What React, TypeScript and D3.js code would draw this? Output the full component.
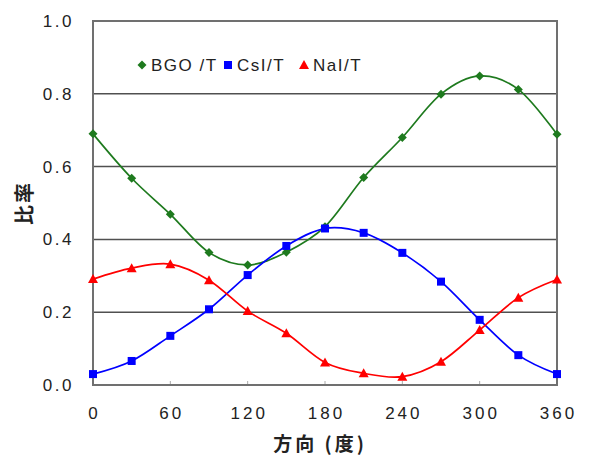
import * as d3 from 'd3';
import React from 'react';

// angle in degrees, every 30
const angles = [0, 30, 60, 90, 120, 150, 180, 210, 240, 270, 300, 330, 360];
const bgo = [0.69, 0.568, 0.469, 0.364, 0.33, 0.365, 0.435, 0.57, 0.68, 0.799, 0.849, 0.812, 0.689];
const csi = [0.03, 0.066, 0.135, 0.208, 0.302, 0.382, 0.43, 0.418, 0.363, 0.284, 0.179, 0.082, 0.03];
const nai = [0.291, 0.321, 0.332, 0.288, 0.203, 0.142, 0.062, 0.032, 0.023, 0.064, 0.151, 0.24, 0.29];
const xTicks = [0, 60, 120, 180, 240, 300, 360];
const yTicks = [0, 0.2, 0.4, 0.6, 0.8, 1.0];

const series = [
  { name: 'BGO /T', values: bgo, color: '#1e7a1e', marker: 'diamond' },
  { name: 'CsI/T', values: csi, color: '#0000ff', marker: 'square' },
  { name: 'NaI/T', values: nai, color: '#ff0000', marker: 'triangle' },
];

const W = 589;
const H = 466;
const m = { left: 93, right: 32, top: 21, bottom: 81 };
const font = '"Liberation Sans", Arial, sans-serif';
const cjk = '"Noto Sans CJK JP", sans-serif';

function Marker({ type, x, y, color }: { type: string; x: number; y: number; color: string }) {
  if (type === 'diamond') {
    const r = 4.5;
    return <path d={`M${x},${y - r}L${x + r},${y}L${x},${y + r}L${x - r},${y}Z`} fill={color} />;
  }
  if (type === 'square') {
    return <rect x={x - 4} y={y - 4} width={8} height={8} fill={color} />;
  }
  return <path d={`M${x},${y - 5}L${x + 5},${y + 4}L${x - 5},${y + 4}Z`} fill={color} />;
}

export default function App() {
  const x = d3.scaleLinear().domain([0, 360]).range([m.left, W - m.right]);
  const y = d3.scaleLinear().domain([0, 1]).range([H - m.bottom, m.top]);
  const line = d3
    .line<number>()
    .x((_, i) => x(angles[i]))
    .y(d => y(d))
    .curve(d3.curveCatmullRom.alpha(0));

  return (
    <svg width={W} height={H} style={{ position: 'absolute', left: 0, top: 0, background: '#fff' }}>
      {/* grid */}
      {yTicks.slice(1, -1).map(t => (
        <line key={t} x1={x(0)} x2={x(360)} y1={y(t)} y2={y(t)} stroke="#505050" strokeWidth={1.5} />
      ))}
      {/* x ticks inside */}
      {xTicks.slice(1, -1).map(t => (
        <line key={t} x1={x(t)} x2={x(t)} y1={y(0)} y2={y(0) - 4} stroke="#aaa" strokeWidth={1} />
      ))}
      <rect
        x={x(0)}
        y={y(1)}
        width={x(360) - x(0)}
        height={y(0) - y(1)}
        fill="none"
        stroke="#707070"
        strokeWidth={2}
      />
      {/* y tick labels */}
      {yTicks.map(t => (
        <text
          key={t}
          x={74}
          y={y(t)}
          dy="0.35em"
          textAnchor="end"
          fontFamily={font}
          fontSize={17}
          letterSpacing={2.5}
          fill="#222"
        >
          {t.toFixed(1)}
        </text>
      ))}
      {/* x tick labels */}
      {xTicks.map(t => (
        <text
          key={t}
          x={x(t) + 1.5}
          y={413}
          dy="0.35em"
          textAnchor="middle"
          fontFamily={font}
          fontSize={17}
          letterSpacing={3}
          fill="#222"
        >
          {t}
        </text>
      ))}
      {/* axis titles */}
      <text
        transform={`translate(25,${(y(0) + y(1)) / 2}) rotate(-90)`}
        textAnchor="middle"
        dy="0.35em"
        fontFamily={cjk}
        fontSize={20}
        fontWeight="bold"
        letterSpacing={2}
        fill="#222"
      >
        比率
      </text>
      <text
        x={320}
        y={444}
        dy="0.35em"
        textAnchor="middle"
        fontFamily={cjk}
        fontSize={19}
        fontWeight="bold"
        letterSpacing={3}
        fill="#222"
      >
        方向 (度)
      </text>
      {/* series */}
      {series.map(s => (
        <g key={s.name}>
          <path d={line(s.values) ?? ''} fill="none" stroke={s.color} strokeWidth={1.7} />
          {s.values.map((v, i) => (
            <Marker key={i} type={s.marker} x={x(angles[i])} y={y(v)} color={s.color} />
          ))}
        </g>
      ))}
      {/* legend */}
      {series.map((s, i) => {
        const lx = [142, 228, 304][i];
        return (
          <g key={s.name}>
            <Marker type={s.marker} x={lx} y={65} color={s.color} />
            <text
              x={lx + 9}
              y={65}
              dy="0.35em"
              fontFamily={font}
              fontSize={17}
              letterSpacing={1.5}
              fill="#222"
            >
              {s.name}
            </text>
          </g>
        );
      })}
    </svg>
  );
}
